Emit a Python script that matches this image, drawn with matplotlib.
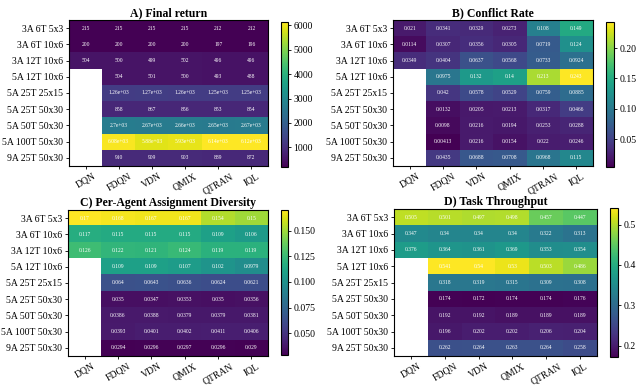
import numpy as np
import matplotlib
matplotlib.use('Agg')
import matplotlib.pyplot as plt

plt.rcParams['font.family'] = ['Liberation Serif', 'DejaVu Serif']

methods = ['DQN', 'FDQN', 'VDN', 'QMIX', 'QTRAN', 'IQL']
scenarios = ['3A 6T 5x3', '3A 6T 10x6', '3A 12T 10x6', '5A 12T 10x6', '5A 25T 25x15',
             '5A 25T 50x30', '5A 50T 50x30', '5A 100T 50x30', '9A 25T 50x30']
nan = np.nan

final_return = [
    [215, 215, 215, 215, 212, 212],
    [200, 200, 200, 200, 197, 196],
    [504, 500, 499, 502, 496, 496],
    [nan, 504, 501, 500, 493, 488],
    [nan, 1260, 1270, 1260, 1250, 1250],
    [nan, 858, 867, 856, 853, 854],
    [nan, 2700, 2670, 2660, 2650, 2670],
    [nan, 6080, 5880, 5930, 6140, 6120],
    [nan, 910, 909, 903, 889, 872],
]
conflict_rate = [
    [0.021, 0.0341, 0.0329, 0.0273, 0.108, 0.149],
    [0.0114, 0.0307, 0.0356, 0.0305, 0.0719, 0.124],
    [0.0349, 0.0404, 0.0637, 0.0568, 0.0733, 0.0924],
    [nan, 0.0975, 0.132, 0.14, 0.213, 0.243],
    [nan, 0.042, 0.0578, 0.0529, 0.0759, 0.0885],
    [nan, 0.0132, 0.0205, 0.0213, 0.0317, 0.0466],
    [nan, 0.0098, 0.0216, 0.0194, 0.0253, 0.0288],
    [nan, 0.00413, 0.0216, 0.0154, 0.022, 0.0246],
    [nan, 0.0435, 0.0688, 0.0708, 0.0968, 0.115],
]
diversity = [
    [0.17, 0.168, 0.167, 0.167, 0.154, 0.15],
    [0.117, 0.115, 0.115, 0.115, 0.109, 0.106],
    [0.126, 0.122, 0.121, 0.124, 0.119, 0.119],
    [nan, 0.109, 0.109, 0.107, 0.102, 0.0979],
    [nan, 0.064, 0.0643, 0.0636, 0.0624, 0.0621],
    [nan, 0.035, 0.0347, 0.0353, 0.035, 0.0356],
    [nan, 0.0386, 0.0388, 0.0379, 0.0379, 0.0381],
    [nan, 0.0393, 0.0401, 0.0402, 0.0411, 0.0406],
    [nan, 0.0294, 0.0296, 0.0297, 0.0296, 0.029],
]
throughput = [
    [0.505, 0.501, 0.497, 0.498, 0.457, 0.447],
    [0.347, 0.34, 0.34, 0.34, 0.322, 0.313],
    [0.376, 0.364, 0.361, 0.369, 0.353, 0.354],
    [nan, 0.541, 0.54, 0.53, 0.503, 0.486],
    [nan, 0.318, 0.319, 0.315, 0.309, 0.308],
    [nan, 0.174, 0.172, 0.174, 0.174, 0.176],
    [nan, 0.192, 0.192, 0.189, 0.189, 0.189],
    [nan, 0.196, 0.202, 0.202, 0.206, 0.204],
    [nan, 0.262, 0.264, 0.263, 0.264, 0.258],
]

W, H = 641, 385
fig = plt.figure(figsize=(W / 100, H / 100), dpi=100)


def px(x0, y0, x1, y1):
    return [x0 / W, 1 - y1 / H, (x1 - x0) / W, (y1 - y0) / H]


panels = [
    ('A) Final return', final_return, px(69, 20, 268, 166), px(281, 22, 288, 167), [1000, 2000, 3000, 4000, 5000, 6000], '%d'),
    ('B) Conflict Rate', conflict_rate, px(393, 20, 593, 166), px(606, 22, 614, 167), [0.05, 0.10, 0.15, 0.20], '%.2f'),
    ('C) Per-Agent Assignment Diversity', diversity, px(68, 210, 268, 356), px(281, 210, 288, 355), [0.050, 0.075, 0.100, 0.125, 0.150], '%.3f'),
    ('D) Task Throughput', throughput, px(394, 209, 597, 356), px(610, 208, 618, 357), [0.2, 0.3, 0.4, 0.5], '%.1f'),
]

for title, data, rect, crect, cticks, cfmt in panels:
    arr = np.ma.masked_invalid(np.array(data, dtype=float))
    ax = fig.add_axes(rect)
    im = ax.imshow(arr, cmap='viridis', aspect='auto', interpolation='nearest')
    for i in range(arr.shape[0]):
        for j in range(arr.shape[1]):
            if arr.mask[i, j]:
                continue
            ax.text(j, i, format(arr[i, j], '.3g'), ha='center', va='center',
                    color='white', fontsize=4)
    ax.set_xticks(range(len(methods)))
    ax.set_xticklabels(methods, rotation=30, fontsize=7)
    ax.set_yticks(range(len(scenarios)))
    ax.set_yticklabels(scenarios, fontsize=7)
    ax.tick_params(length=2.5, width=0.6, pad=1.5)
    ax.set_title(title, fontsize=8.5, fontweight='bold', pad=3)
    cax = fig.add_axes(crect)
    cb = fig.colorbar(im, cax=cax, ticks=cticks, format=cfmt)
    cb.ax.tick_params(labelsize=7, length=2.5, width=0.6, pad=1.5)
    cb.outline.set_linewidth(0.8)

fig.savefig('out.png', dpi=100)
